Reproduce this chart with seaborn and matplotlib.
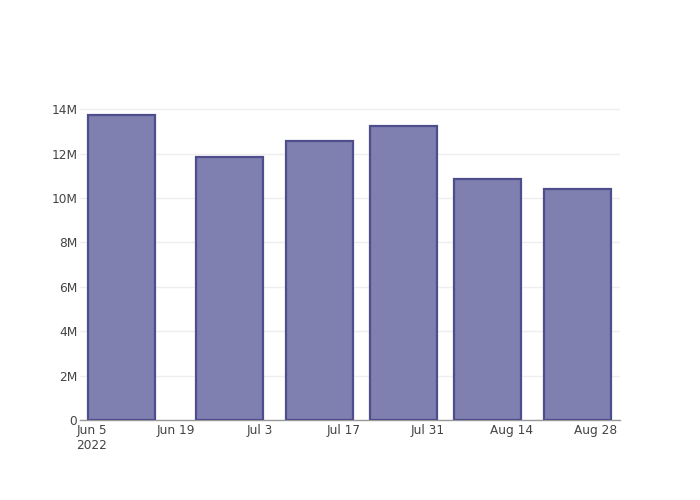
import pandas as pd
import numpy as np
import matplotlib
matplotlib.use('Agg')
import matplotlib.pyplot as plt
import matplotlib.dates as mdates
import seaborn as sns

# Data
dates = ['2022-06-10', '2022-06-28', '2022-07-13', '2022-07-27', '2022-08-10', '2022-08-25']
values = [13.73e6, 11.84e6, 12.56e6, 13.22e6, 10.86e6, 10.42e6]

tick_dates = ['2022-06-05', '2022-06-19', '2022-07-03', '2022-07-17', '2022-07-31', '2022-08-14', '2022-08-28']
tick_labels = ['Jun 5\n2022', 'Jun 19', 'Jul 3', 'Jul 17', 'Jul 31', 'Aug 14', 'Aug 28']
ytick_values = [0, 2e6, 4e6, 6e6, 8e6, 10e6, 12e6, 14e6]
ytick_labels = ['0', '2M', '4M', '6M', '8M', '10M', '12M', '14M']

df = pd.DataFrame({'date': pd.to_datetime(dates), 'value': values})
df['num'] = mdates.date2num(df['date'])

sns.set_style('white')
plt.rcParams['font.family'] = ['DejaVu Sans']

fig = plt.figure(figsize=(7, 5), dpi=100)
ax = fig.add_axes([80 / 700, 80 / 500, 540 / 700, 320 / 500])

sns.barplot(data=df, x='num', y='value', native_scale=True, width=0.8,
            color='#7f7fb0', saturation=1, edgecolor='#4e4e8c', linewidth=1.6,
            errorbar=None, ax=ax, zorder=3)

# axis ranges
start = mdates.date2num(pd.Timestamp('2022-06-05'))
ax.set_xlim(start - 11.5 / 6, start + 528.5 / 6)
ax.set_ylim(0, 14.41e6)

ax.set_xticks(mdates.date2num(pd.to_datetime(tick_dates)))
ax.set_xticklabels(tick_labels, fontsize=8.7, color='#444444')
ax.set_yticks(ytick_values)
ax.set_yticklabels(ytick_labels, fontsize=8.7, color='#444444')
ax.tick_params(axis='both', length=0)
ax.tick_params(axis='x', pad=3)
ax.tick_params(axis='y', pad=2)
for lbl in ax.get_xticklabels()[:1]:
    lbl.set_multialignment('left')

ax.grid(axis='y', color='#eeeeee', linewidth=1, zorder=0)
ax.grid(axis='x', visible=False)
ax.set_xlabel('')
ax.set_ylabel('')
for side in ['top', 'right', 'left']:
    ax.spines[side].set_visible(False)
ax.spines['bottom'].set_color('#999999')
ax.spines['bottom'].set_linewidth(1)

fig.savefig('out.png', dpi=100)
